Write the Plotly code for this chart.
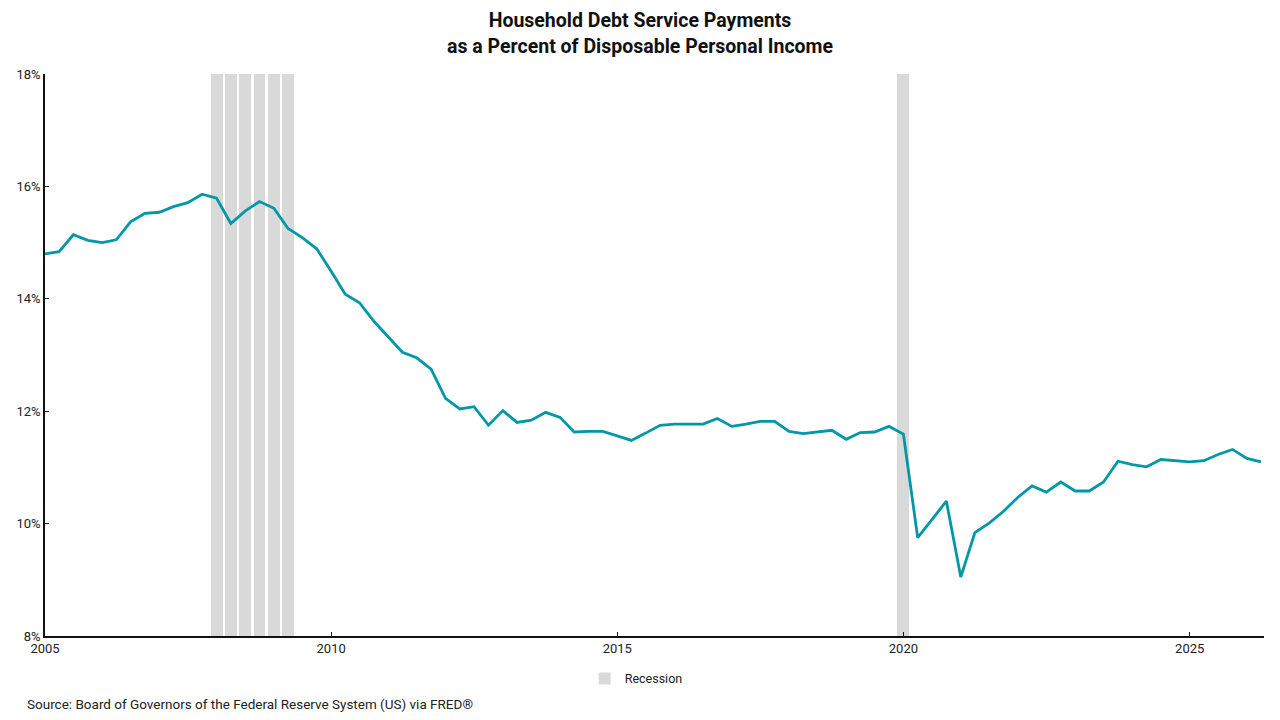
import plotly.graph_objects as go
import pandas as pd

# quarterly debt service ratio, 2005Q1 .. 2026Q2 (percent)
dsr = [
    14.80, 14.84, 15.14, 15.04,
    15.00, 15.05, 15.37, 15.52,
    15.54, 15.64, 15.71, 15.86,
    15.79, 15.34, 15.56, 15.73,
    15.61, 15.25, 15.09, 14.89,
    14.49, 14.08, 13.93, 13.60,
    13.32, 13.05, 12.95, 12.75,
    12.23, 12.04, 12.08, 11.75,
    12.01, 11.80, 11.84, 11.98,
    11.89, 11.63, 11.64, 11.64,
    11.56, 11.48, 11.61, 11.75,
    11.77, 11.77, 11.77, 11.87,
    11.73, 11.77, 11.82, 11.82,
    11.64, 11.60, 11.63, 11.66,
    11.50, 11.62, 11.63, 11.73,
    11.59, 9.75, 10.07, 10.40,
    9.05, 9.84, 10.01, 10.22,
    10.47, 10.67, 10.56, 10.74,
    10.58, 10.58, 10.74, 11.11,
    11.05, 11.01, 11.14, 11.12,
    11.10, 11.12, 11.23, 11.32,
    11.16, 11.10,
]
dates = pd.date_range("2005-01-01", periods=len(dsr), freq="QS")

# recession quarters (shaded)
recession_q = ["2008-01-01", "2008-04-01", "2008-07-01", "2008-10-01",
               "2009-01-01", "2009-04-01", "2020-01-01"]

y_min, y_max = 8, 18
tick_vals = [8, 10, 12, 14, 16, 18]
tick_text = ["8%", "10%", "12%", "14%", "16%", "18%"]
x_ticks = ["2005-01-01", "2010-01-01", "2015-01-01", "2020-01-01", "2025-01-01"]
x_labels = ["2005", "2010", "2015", "2020", "2025"]

fig = go.Figure()

fig.add_trace(go.Bar(
    x=pd.to_datetime(recession_q),
    y=[y_max - y_min] * len(recession_q),
    base=y_min,
    width=76 * 86400000,
    marker=dict(color="#d9d9d9", line=dict(width=0)),
    name="Recession",
    hoverinfo="skip",
))

fig.add_trace(go.Scatter(
    x=dates, y=dsr, mode="lines",
    line=dict(color="#0097a7", width=2.8),
    showlegend=False,
    name="DSR",
))

fig.update_layout(
    width=1280, height=720,
    margin=dict(l=45, r=16, t=74, b=84),
    paper_bgcolor="white", plot_bgcolor="white",
    font=dict(family="Roboto", size=13, color="#222222"),
    title=dict(
        text="<b>Household Debt Service Payments<br>as a Percent of Disposable Personal Income</b>",
        x=0.5, xanchor="center", xref="container", y=0.962, yanchor="middle",
        font=dict(family="Roboto", size=19.5, color="#111111"),
    ),
    legend=dict(orientation="h", x=0.485, xanchor="center", y=-0.0765, yanchor="middle",
                font=dict(size=12.5), itemwidth=30),
    bargap=0,
)

fig.update_xaxes(
    range=[pd.Timestamp("2005-01-01"), pd.Timestamp("2026-04-20")],
    tickvals=pd.to_datetime(x_ticks), ticktext=x_labels,
    showline=True, linecolor="#111111", linewidth=1.5,
    ticks="inside", ticklen=4, tickcolor="#111111",
    showgrid=False, zeroline=False,
)
fig.update_yaxes(
    range=[y_min, y_max],
    tickvals=tick_vals, ticktext=tick_text,
    showline=True, linecolor="#111111", linewidth=1.5,
    ticks="inside", ticklen=4, tickcolor="#111111",
    showgrid=False, zeroline=False,
)

fig.add_annotation(
    text="Source: Board of Governors of the Federal Reserve System (US) via FRED®",
    xref="paper", yref="paper", x=-0.0164, y=-0.121, xanchor="left", yanchor="middle",
    showarrow=False, font=dict(size=13.5, color="#222222"),
)

# page body has a default margin, drop it so the figure sits at 0,0
fig.write_html("out.html", config={"displayModeBar": False},
               post_script="document.body.style.margin='0';")
